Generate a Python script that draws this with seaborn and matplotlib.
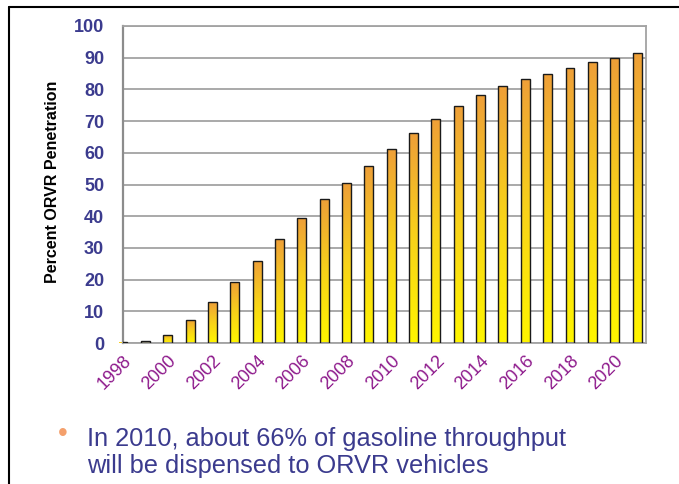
import numpy as np
import pandas as pd
import seaborn as sns
import matplotlib as mpl
import matplotlib.pyplot as plt
from matplotlib.colors import LinearSegmentedColormap
from matplotlib.lines import Line2D

# data
years = list(range(1998, 2022))
penetration = [0.2, 0.7, 2.6, 7.4, 12.8, 19.3, 26.0, 32.8, 39.3, 45.3,
               50.4, 55.8, 61.2, 66.1, 70.8, 74.9, 78.2, 81.0, 83.4, 85.0,
               86.9, 88.5, 89.8, 91.4]
label_years = list(range(1998, 2021, 2))
y_ticks = list(range(0, 101, 10))
y_title = "Percent ORVR Penetration"
note_lines = ["In 2010, about 66% of gasoline throughput",
              "will be dispensed to ORVR vehicles"]

df = pd.DataFrame({"year": years, "pct": penetration})

sns.set_style("white")
plt.rcParams['font.family'] = ['Liberation Sans', 'DejaVu Sans']

navy = '#3b3b8e'
purple = '#8e1a8c'
grid_gray = '#a3a3a3'

fig = plt.figure(figsize=(6.79, 4.84), dpi=100)
ax = fig.add_axes([123 / 679, 1 - 343 / 484, 523 / 679, 317 / 484])

sns.barplot(data=df, x="year", y="pct", native_scale=True, width=0.4,
            color='#f0a535', edgecolor='#1a1a1a', linewidth=1.0,
            ax=ax, zorder=3)

# vertical orange -> yellow gradient inside each bar
grad_cmap = LinearSegmentedColormap.from_list(
    "orvr", ['#fff500', '#f8d21a', '#eea038'])
grad = np.linspace(0, 1, 64).reshape(-1, 1)
for bar in ax.patches:
    x0, y0 = bar.get_x(), bar.get_y()
    w, h = bar.get_width(), bar.get_height()
    if h <= 0:
        continue
    im = ax.imshow(grad, cmap=grad_cmap, origin='lower', aspect='auto',
                   extent=(x0, x0 + w, y0, y0 + h), zorder=2.5,
                   interpolation='bilinear')
    im.set_clip_path(bar)
    bar.set_facecolor('none')

ax.set_xlim(1998, 2021.4)
ax.set_ylim(0, 100)

ax.set_yticks(y_ticks)
ax.set_xticks(years)
ax.set_xticklabels([str(y) if y in label_years else "" for y in years],
                   rotation=45, ha='right', va='top', rotation_mode='anchor')

ax.yaxis.grid(True, color=grid_gray, linewidth=1.3, zorder=1)
ax.xaxis.grid(False)
ax.set_axisbelow(True)

for side in ['left', 'bottom', 'right', 'top']:
    ax.spines[side].set_visible(True)
    ax.spines[side].set_color(grid_gray)
    ax.spines[side].set_linewidth(1.3)
ax.spines['left'].set_color('#8c8c8c')
ax.spines['left'].set_linewidth(1.6)

ax.tick_params(axis='y', direction='out', length=6, width=1.3,
               color=grid_gray, pad=7.5, labelsize=13, labelcolor=navy)
ax.tick_params(axis='x', direction='out', length=5, width=1.3,
               color=grid_gray, pad=2, labelsize=13, labelcolor=purple)
for t in ax.get_yticklabels():
    t.set_fontweight('bold')

ax.set_xlabel("")
ax.set_ylabel("")
fig.text(53 / 679, 1 - 182 / 484, y_title, rotation=90, ha='center',
         va='center', fontsize=11.5, fontweight='bold', color='black')

# slide frame lines
fig.add_artist(Line2D([9 / 679, 1], [1 - 7 / 484, 1 - 7 / 484],
                      transform=fig.transFigure, color='black', lw=1.5))
fig.add_artist(Line2D([9 / 679, 9 / 679], [0, 1 - 7 / 484],
                      transform=fig.transFigure, color='black', lw=1.5))

# bullet note
fig.text(63 / 679, 1 - 434 / 484, "\u2022", ha='center', va='center',
         fontsize=20, color='#f4a06c')
for i, line in enumerate(note_lines):
    fig.text(87 / 679, 1 - (446 + 27 * i) / 484, line, ha='left',
             va='baseline', fontsize=18.3, color=navy)

fig.savefig("out.png", dpi=100)
